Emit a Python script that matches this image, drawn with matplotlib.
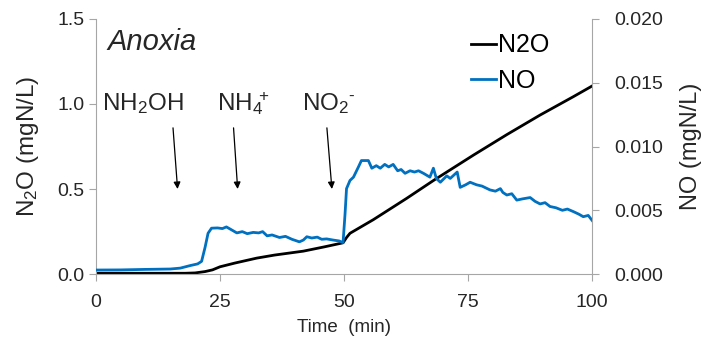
import numpy as np
import matplotlib.pyplot as plt

plt.rcParams['font.family'] = ['Liberation Sans', 'DejaVu Sans']
plt.rcParams['mathtext.fontset'] = 'custom'
plt.rcParams['mathtext.rm'] = 'Liberation Sans'
plt.rcParams['mathtext.it'] = 'Liberation Sans:italic'
plt.rcParams['mathtext.bf'] = 'Liberation Sans:bold'
plt.rcParams['mathtext.default'] = 'regular'

# N2O (left axis, mgN/L)
n2o_t = [0, 10, 18, 20, 22, 23.5, 25, 28, 32.4, 36, 41.8, 46, 49.8, 50.5, 51.2,
         55.9, 62.6, 68, 76.1, 82.8, 89.5, 96.2, 100]
n2o = [0.005, 0.005, 0.005, 0.007, 0.015, 0.025, 0.043, 0.065, 0.094, 0.112, 0.135,
       0.16, 0.184, 0.215, 0.24, 0.32, 0.445, 0.55, 0.70, 0.82, 0.935, 1.043, 1.106]

# NO (right axis, mgN/L)
no_t = [0, 5, 10, 15, 17, 19, 20.5, 21.3, 22, 22.6, 23.3, 24.5, 25.5, 26.3, 27.2,
        28.4, 29.5, 30.5, 31.7, 32.8, 33.6, 34.5, 35.5, 37, 38.2, 39.5, 41, 41.8,
        42.5, 43.5, 44.6, 45.5, 46.5, 47.8, 49, 49.8, 50.2, 50.5, 51.2, 51.9, 52.9,
        53.5, 54.9, 55.6, 56.5, 57.3, 58.2, 59, 59.9, 60.8, 61.5, 62.3, 63.3, 64.2,
        65, 66, 67.3, 68, 68.6, 69.4, 70.7, 71.4, 72.8, 73.4, 74.5, 75.4, 76.7,
        77.8, 79.4, 80.5, 81.5, 82, 82.8, 83.8, 84.8, 86, 87.5, 88.5, 89.5, 90.5,
        91.5, 92.7, 94, 95, 96.2, 97.3, 98.2, 99.2, 100]
no = [0.00032, 0.00033, 0.00037, 0.0004, 0.00047, 0.00067, 0.0008, 0.001, 0.0021,
      0.0032, 0.0036, 0.00362, 0.00357, 0.0037, 0.0035, 0.00323, 0.00333, 0.00317,
      0.00327, 0.00323, 0.00333, 0.003, 0.00307, 0.00287, 0.00296, 0.00273, 0.00253,
      0.00267, 0.00293, 0.00283, 0.0029, 0.00273, 0.00276, 0.00267, 0.0026, 0.00247,
      0.0047, 0.0067, 0.00734, 0.0076, 0.0084, 0.0089, 0.0089, 0.0083, 0.0085,
      0.0083, 0.0086, 0.0084, 0.0086, 0.0081, 0.0082, 0.0079, 0.0081, 0.008, 0.0081,
      0.0079, 0.0076, 0.0083, 0.0075, 0.0072, 0.0077, 0.0075, 0.008, 0.0068, 0.007,
      0.0072, 0.007, 0.0069, 0.0066, 0.0065, 0.0067, 0.0064, 0.0062, 0.0063, 0.0058,
      0.0059, 0.006, 0.0057, 0.0055, 0.0056, 0.0053, 0.0052, 0.005, 0.0051, 0.0049,
      0.0047, 0.0045, 0.0046, 0.0042]

# additions: label, text x, arrow x start, arrow x end
additions = [('NH$_2$OH', 9.4, 15.5, 16.5),
             ('NH$_4\\!\\!{}^+$', 29.8, 27.7, 28.6),
             ('NO$_2{}^{\\text{-}}$', 47.0, 46.5, 47.6)]

gray = '#a6a6a6'
blue = '#0070C0'
txt = '#262626'

fig = plt.figure(figsize=(7.05, 3.38), dpi=100)
ax = fig.add_axes([0.136, 0.189, 0.704, 0.755])
ax2 = ax.twinx()

l1, = ax.plot(n2o_t, n2o, color='black', lw=2, label='N2O')
l2, = ax2.plot(no_t, no, color=blue, lw=2, label='NO')

ax.set_xlim(0, 100)
ax.set_ylim(0, 1.5)
ax2.set_ylim(0, 0.020)
ax.set_xticks([0, 25, 50, 75, 100])
ax.set_yticks([0, 0.5, 1.0, 1.5])
ax.set_yticklabels(['0.0', '0.5', '1.0', '1.5'])
ax2.set_yticks([0, 0.005, 0.010, 0.015, 0.020])
ax2.set_yticklabels(['0.000', '0.005', '0.010', '0.015', '0.020'])

for a in (ax, ax2):
    a.spines['top'].set_visible(False)
    for s in ('left', 'right', 'bottom'):
        a.spines[s].set_color(gray)
    a.tick_params(colors=gray, labelcolor=txt, labelsize=14, length=5)
ax.spines['right'].set_visible(False)
ax2.spines['left'].set_visible(False)
ax2.spines['bottom'].set_visible(False)
ax.tick_params(axis='x', pad=9)
ax.tick_params(axis='y', pad=3)
ax2.tick_params(axis='y', pad=11)

ax.set_xlabel('Time  (min)', fontsize=13.5, color=txt, labelpad=6)
ax.set_ylabel('N$_2$O (mgN/L)', fontsize=17.5, color=txt, labelpad=12)
ax2.set_ylabel('NO (mgN/L)', fontsize=17, color=txt, rotation=90, labelpad=12)

ax.text(2.3, 1.32, 'Anoxia', fontsize=21, style='italic', color=txt, va='baseline')

for lab, tx, xs, xe in additions:
    ax.text(tx, 1.005, lab, fontsize=17.5, ha='center', va='center', color=txt)
    ax.annotate('', xy=(xe, 0.484), xytext=(xs, 0.876),
                arrowprops=dict(arrowstyle='-|>', color='black', lw=0.9,
                                mutation_scale=10))

fig.legend(handles=[l1, l2], loc='upper left', bbox_to_anchor=(0.651, 0.938),
           frameon=False, fontsize=18, handlelength=1.0, handletextpad=0.05,
           labelspacing=0.45, borderpad=0)

fig.savefig('out.png', dpi=100)
